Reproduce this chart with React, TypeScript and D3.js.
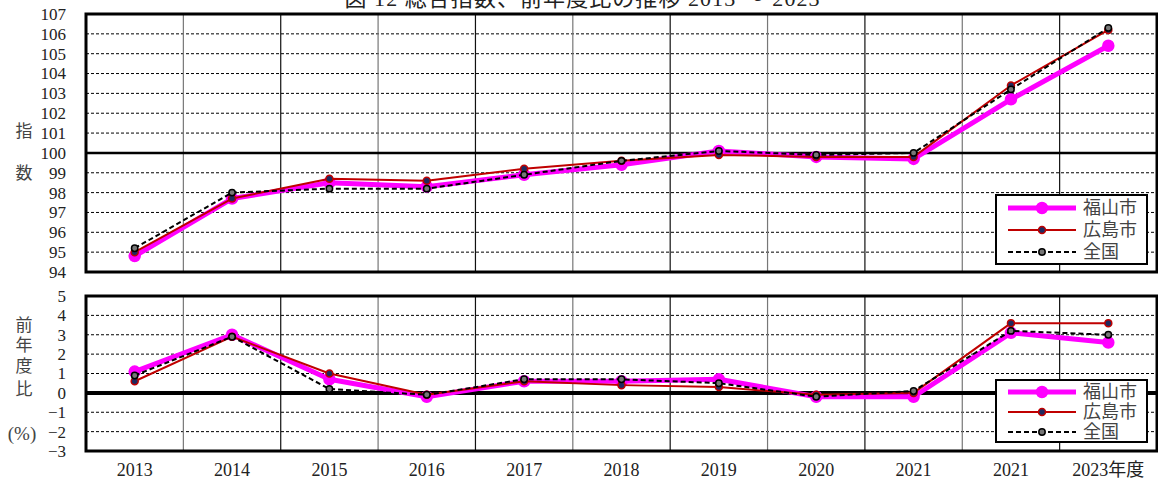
import React from "react";
import * as d3 from "d3";

// x axis labels (the duplicated 2021 is in the original)
const years = ["2013", "2014", "2015", "2016", "2017", "2018", "2019", "2020", "2021", "2021", "2023年度"];

// 総合指数
const idxFukuyama = [94.8, 97.7, 98.5, 98.3, 98.9, 99.4, 100.1, 99.8, 99.7, 102.7, 105.4];
const idxHiroshima = [95.0, 97.7, 98.7, 98.6, 99.2, 99.6, 99.9, 99.8, 99.8, 103.4, 106.2];
const idxZenkoku = [95.2, 98.0, 98.2, 98.2, 98.9, 99.6, 100.1, 99.9, 100.0, 103.2, 106.3];

// 前年度比 (%)
const yoyFukuyama = [1.1, 3.0, 0.7, -0.2, 0.6, 0.6, 0.7, -0.2, -0.2, 3.1, 2.6];
const yoyHiroshima = [0.6, 2.9, 1.0, -0.1, 0.6, 0.4, 0.3, -0.1, 0.0, 3.6, 3.6];
const yoyZenkoku = [0.9, 2.9, 0.2, -0.1, 0.7, 0.7, 0.5, -0.2, 0.1, 3.2, 3.0];

const idxTicks = d3.range(94, 108);
const yoyTicks = d3.range(-3, 6);

const W = 1158;
const H = 479;
const left = 86;
const right = 1157;

const MAGENTA = "#ff00ff";
const RED = "#c00000";
const FONT = "'Liberation Serif', 'Noto Sans CJK JP', serif";

const series = [
  { name: "福山市", color: MAGENTA, width: 5, dash: "", r: 5.5, fill: MAGENTA, stroke: MAGENTA },
  { name: "広島市", color: RED, width: 2, dash: "", r: 3.5, fill: "#1f2a60", stroke: RED },
  { name: "全国", color: "#000", width: 2, dash: "5,3", r: 3.2, fill: "#777", stroke: "#000" },
];

const x = d3.scaleBand<number>().domain(d3.range(years.length)).range([left, right]).padding(0);
const cx = (i: number) => (x(i) as number) + x.bandwidth() / 2;

function Panel({ top, bottom, ticks, data, base, baseWidth, legendTop, small }: any) {
  const y = d3.scaleLinear().domain([ticks[0], ticks[ticks.length - 1]]).range([bottom, top]);
  const line = d3.line<number>().x((d, i) => cx(i)).y((d) => y(d));
  return (
    <g>
      {/* horizontal dashed grid */}
      {ticks.slice(1, -1).filter((t: number) => t !== base).map((t: number) => (
        <line key={t} x1={left} x2={right} y1={y(t)} y2={y(t)} stroke="#000" strokeWidth={1} strokeDasharray="3,2" />
      ))}
      {/* vertical grid */}
      {d3.range(1, years.length).map((i) => (
        <line key={i} x1={x(i)} x2={x(i)} y1={top} y2={bottom} stroke={i % 2 === 1 ? "#777" : "#111"} strokeWidth={1.2} />
      ))}
      <line x1={left} x2={right} y1={y(base)} y2={y(base)} stroke="#000" strokeWidth={baseWidth} />
      {/* tick labels */}
      {ticks.map((t: number) => (
        <text key={t} x={66} y={y(t)} dy="0.35em" textAnchor="end" fontSize={17} fontFamily={FONT} fill="#222">
          {t < 0 ? "−" + Math.abs(t) : t}
        </text>
      ))}
      {/* lines */}
      {series.map((s, k) => (
        <g key={s.name}>
          <path d={line(data[k]) as string} fill="none" stroke={s.color} strokeWidth={s.width} strokeDasharray={s.dash} strokeLinejoin="round" />
          {data[k].map((v: number, i: number) => (
            <circle key={i} cx={cx(i)} cy={y(v)} r={s.r} fill={s.fill} stroke={s.stroke} strokeWidth={1.5} />
          ))}
        </g>
      ))}
      <rect x={left} y={top} width={right - left} height={bottom - top} fill="none" stroke="#000" strokeWidth={3} />
      {/* legend */}
      <g transform={`translate(996,${legendTop})`}>
        <rect x={0} y={0} width={151} height={small ? 62 : 69} fill="#fff" stroke="#000" strokeWidth={2} />
        {series.map((s, k) => {
          const ly = (small ? 12 : 13) + k * (small ? 20 : 22);
          return (
            <g key={s.name}>
              <line x1={12} x2={80} y1={ly} y2={ly} stroke={s.color} strokeWidth={s.width} strokeDasharray={s.dash} />
              <circle cx={46} cy={ly} r={s.r} fill={s.fill} stroke={s.stroke} strokeWidth={1.5} />
              <text x={87} y={ly} dy="0.36em" fontSize={18} fontFamily={FONT} fill="#444">{s.name}</text>
            </g>
          );
        })}
      </g>
    </g>
  );
}

export default function App() {
  const sideLabel = (t: string, yy: number, xx = 24, fs = 17) => (
    <text key={t + yy} x={xx} y={yy} dy="0.36em" textAnchor="middle" fontSize={fs} fontFamily={FONT} fill="#444">{t}</text>
  );
  return (
    <svg width={W} height={H} style={{ position: "absolute", left: 0, top: 0, background: "#fff" }}>
      <text x={582} y={6} textAnchor="middle" fontSize={22} fontFamily={FONT} fill="#222" textLength={475} lengthAdjust="spacing">
        図 12 総合指数、前年度比の推移 2013 ～ 2023
      </text>
      <Panel top={14} bottom={272} ticks={idxTicks} data={[idxFukuyama, idxHiroshima, idxZenkoku]} base={100} baseWidth={2.5} legendTop={195} />
      <Panel top={296} bottom={451} ticks={yoyTicks} data={[yoyFukuyama, yoyHiroshima, yoyZenkoku]} base={0} baseWidth={4} legendTop={380} small />
      {sideLabel("指", 131)}
      {sideLabel("数", 173)}
      {sideLabel("前", 325)}
      {sideLabel("年", 345)}
      {sideLabel("度", 366)}
      {sideLabel("比", 389)}
      {sideLabel("(%)", 433, 22, 19)}
      {years.map((yr, i) => (
        <text key={i} x={cx(i)} y={470} dy="0.36em" textAnchor="middle" fontSize={18} fontFamily={FONT} fill="#222">{yr}</text>
      ))}
    </svg>
  );
}
